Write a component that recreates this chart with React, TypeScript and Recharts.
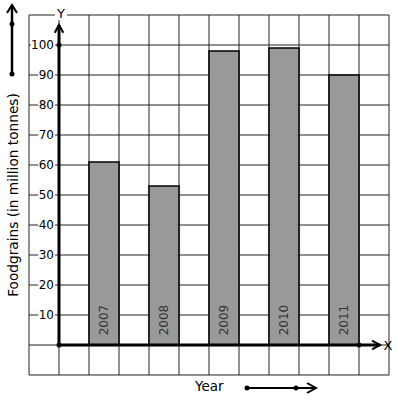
import React from "react";
import {
  BarChart,
  Bar,
  XAxis,
  YAxis,
  CartesianGrid,
  ReferenceLine,
  ReferenceDot,
  LabelList,
} from "recharts";

const years = ["2007", "2008", "2009", "2010", "2011"];
const foodgrains = [61, 53, 98, 99, 90];
const yTicks = [-10, 0, 10, 20, 30, 40, 50, 60, 70, 80, 90, 100, 110];
const yLabelTicks = [10, 20, 30, 40, 50, 60, 70, 80, 90, 100];
const columns = 12; // squares across the graph paper
const firstBarColumn = 2;

const FONT = "DejaVu Sans";

// one slot per column of graph paper, bars every second column
const data = Array.from({ length: columns }, (_, i) => {
  const k = (i - firstBarColumn) / 2;
  if (Number.isInteger(k) && k >= 0 && k < years.length) {
    return { slot: i, year: years[k], value: foodgrains[k] };
  }
  return { slot: i, year: "", value: null };
});

const YTick = (props: any) => {
  const { x, y, payload } = props;
  if (!yLabelTicks.includes(Number(payload.value))) return <g />;
  const label = String(payload.value);
  const w = label.length * 7.4;
  const right = x + 25;
  return (
    <g>
      <rect x={right - w - 1} y={y - 7} width={w + 2} height={14} fill="#fff" />
      <text
        x={right}
        y={y}
        textAnchor="end"
        dominantBaseline="central"
        fontSize={12}
        fontFamily={FONT}
        fill="#000"
      >
        {label}
      </text>
    </g>
  );
};

const YearLabel = (props: any) => {
  const { x, y, width, height, value } = props;
  if (!value) return null;
  const cx = x + width / 2;
  const cy = y + height - 25;
  return (
    <text
      x={cx}
      y={cy}
      transform={`rotate(-90 ${cx} ${cy})`}
      textAnchor="middle"
      dominantBaseline="central"
      fontSize={12}
      fontFamily={FONT}
      fill="#333"
    >
      {value}
    </text>
  );
};

const ArrowLine = (props: any) => {
  const { x1, y1, x2, y2 } = props;
  const ang = Math.atan2(y2 - y1, x2 - x1);
  const len = 9;
  const spread = 0.5;
  const ax = x2 - len * Math.cos(ang - spread);
  const ay = y2 - len * Math.sin(ang - spread);
  const bx = x2 - len * Math.cos(ang + spread);
  const by = y2 - len * Math.sin(ang + spread);
  return (
    <g>
      <line x1={x1} y1={y1} x2={x2} y2={y2} stroke="#000" strokeWidth={3} />
      <path
        d={`M${ax},${ay} L${x2},${y2} L${bx},${by}`}
        fill="none"
        stroke="#000"
        strokeWidth={2}
      />
    </g>
  );
};

const Overlay = () => (
  <svg
    width={397}
    height={401}
    style={{ position: "absolute", left: 0, top: 0, pointerEvents: "none" }}
  >
    {/* Y label at the top of the axis */}
    <rect x={55} y={6} width={12} height={14} fill="#fff" />
    <text x={61} y={13} textAnchor="middle" dominantBaseline="central" fontSize={13} fontFamily={FONT}>
      Y
    </text>
    <text x={388} y={345} textAnchor="middle" dominantBaseline="central" fontSize={13} fontFamily={FONT}>
      X
    </text>
    <text
      x={13}
      y={195}
      transform="rotate(-90 13 195)"
      textAnchor="middle"
      dominantBaseline="central"
      fontSize={13.7}
      fontFamily={FONT}
    >
      Foodgrains (in million tonnes)
    </text>
    <text x={195} y={386} dominantBaseline="central" fontSize={13.5} fontFamily={FONT}>
      Year
    </text>
    {/* direction arrows */}
    <line x1={12} y1={74} x2={12} y2={5} stroke="#000" strokeWidth={2.5} />
    <path d="M7,13 L12,5 L17,13" fill="none" stroke="#000" strokeWidth={2} />
    <circle cx={12} cy={24} r={2.5} fill="#000" />
    <circle cx={12} cy={74} r={2.5} fill="#000" />
    <line x1={247} y1={388} x2={316} y2={388} stroke="#000" strokeWidth={2} />
    <path d="M307,383 L316,388 L307,393" fill="none" stroke="#000" strokeWidth={2} />
    <circle cx={247} cy={388} r={2.5} fill="#000" />
    <circle cx={296} cy={388} r={2.5} fill="#000" />
  </svg>
);

export default function App() {
  return (
    <div style={{ position: "absolute", left: 0, top: 0, width: 397, height: 401, background: "#fff" }}>
      <BarChart
        width={397}
        height={401}
        data={data}
        margin={{ top: 15, right: 8, bottom: 26, left: 0 }}
        barCategoryGap={0}
        barGap={0}
      >
        <CartesianGrid
          stroke="#222"
          strokeWidth={1}
          verticalCoordinatesGenerator={({ offset }: any) =>
            Array.from({ length: columns + 1 }, (_, i) => offset.left + (i * offset.width) / columns)
          }
        />
        <XAxis xAxisId="cat" dataKey="slot" type="category" hide />
        <XAxis xAxisId="num" dataKey="slot" type="number" domain={[0, columns]} hide allowDataOverflow />
        <YAxis
          type="number"
          domain={[-10, 110]}
          ticks={yTicks}
          width={29}
          axisLine={false}
          tickLine={false}
          tickSize={0}
          tickMargin={0}
          tick={<YTick />}
          interval={0}
        />
        <Bar
          xAxisId="cat"
          dataKey="value"
          fill="#999999"
          stroke="#000"
          strokeWidth={1.5}
          isAnimationActive={false}
        >
          <LabelList dataKey="year" content={<YearLabel />} />
        </Bar>
        <ReferenceLine
          xAxisId="num"
          segment={[{ x: 1, y: 0 }, { x: 11.7, y: 0 }]}
          shape={<ArrowLine />}
        />
        <ReferenceLine
          xAxisId="num"
          segment={[{ x: 1, y: 0 }, { x: 1, y: 106.7 }]}
          shape={<ArrowLine />}
        />
        <ReferenceDot xAxisId="num" x={1} y={100} r={2.5} fill="#000" stroke="none" />
        <ReferenceDot xAxisId="num" x={1} y={0} r={2.5} fill="#000" stroke="none" />
        <ReferenceDot xAxisId="num" x={11} y={0} r={2.5} fill="#000" stroke="none" />
      </BarChart>
      <Overlay />
    </div>
  );
}
